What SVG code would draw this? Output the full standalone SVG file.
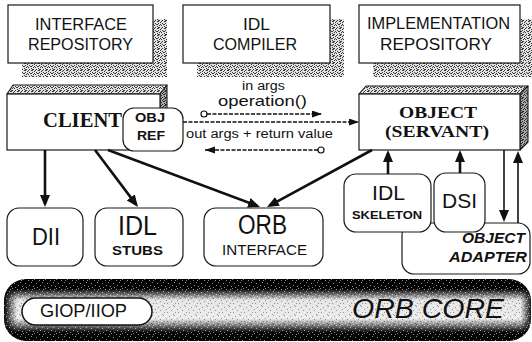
<svg xmlns="http://www.w3.org/2000/svg" width="532" height="342" viewBox="0 0 532 342">
  <style>
    .box { fill: #fff; stroke: #1a1a1a; stroke-width: 1.2; }
    .shade { fill: url(#speckle); stroke: none; }
    .bevel { fill: url(#speckle); stroke: #1a1a1a; stroke-width: 1.1; stroke-linejoin: round; }
    .bevel-dark { fill: url(#speckle-dark); stroke: #1a1a1a; stroke-width: 1.1; stroke-linejoin: round; }
    .sans { font-family: "Liberation Sans", Arial, sans-serif; fill: #111; text-anchor: middle; }
    .serif { font-family: "Liberation Serif", "Times New Roman", serif; font-weight: bold; fill: #111; text-anchor: middle; }
    .top { font-size: 16px; }
    .thick { fill: none; stroke: #111; stroke-width: 2.6; marker-end: url(#head); }
    .rail { fill: none; stroke: #111; stroke-width: 1.6; marker-end: url(#head); }
    .thin { fill: none; stroke: #111; stroke-width: 1.3; stroke-dasharray: 4 1.5; }
    .dot { fill: #fff; stroke: #111; stroke-width: 1.2; }
  </style>
  <defs>
    <marker id="head" markerUnits="userSpaceOnUse" markerWidth="13" markerHeight="11" refX="9" refY="5" orient="auto">
      <path d="M0,0 L12,5 L0,10 Z" fill="#111"/>
    </marker>
    <marker id="small" markerUnits="userSpaceOnUse" markerWidth="11" markerHeight="8" refX="10" refY="3.5" orient="auto">
      <path d="M0,0 L10,3.5 L0,7 Z" fill="#111"/>
    </marker>
    <!-- halftone speckle used for shadows and bevels -->
    <pattern id="speckle" width="7" height="7" patternUnits="userSpaceOnUse">
      <rect width="7" height="7" fill="#e2e2e2"/>
      <path fill="#3a3a3a" d="M0 0h1v1H0z M3 0h2v1H3z M6 1h1v1H6z M1 2h1v1H1z M4 2h1v1H4z M2 3h2v1H2z M6 3h1v1H6z M0 4h1v1H0z M5 4h1v1H5z M3 5h1v1H3z M1 6h1v1H1z M4 6h2v1H4z"/>
    </pattern>
    <pattern id="speckle-dark" width="7" height="7" patternUnits="userSpaceOnUse">
      <rect width="7" height="7" fill="#a8a8a8"/>
      <path fill="#2a2a2a" d="M0 0h1v1H0z M3 0h2v1H3z M6 1h1v1H6z M1 2h1v1H1z M4 2h1v1H4z M2 3h2v1H2z M6 3h1v1H6z M0 4h1v1H0z M5 4h1v1H5z M3 5h1v1H3z M1 6h1v1H1z M4 6h2v1H4z M2 1h1v1H2z M5 6h1v1H5z"/>
    </pattern>
    <!-- grain laid over the shaded tube -->
    <pattern id="grain" width="11" height="9" patternUnits="userSpaceOnUse">
      <path fill="#fff" fill-opacity="0.55" d="M1 0h1v1H1z M6 1h1v1H6z M9 3h1v1H9z M3 4h1v1H3z M7 6h1v1H7z M0 7h1v1H0z M4 8h1v1H4z M10 1h1v1H10z"/>
      <path fill="#000" fill-opacity="0.35" d="M4 1h1v1H4z M9 0h1v1H9z M1 3h1v1H1z M6 4h1v1H6z M10 6h1v1H10z M2 6h1v1H2z M8 8h1v1H8z"/>
    </pattern>
    <linearGradient id="tube" x1="0" y1="0" x2="0" y2="1">
      <stop offset="0" stop-color="#000"/>
      <stop offset="0.16" stop-color="#050505"/>
      <stop offset="0.34" stop-color="#e4e4e4"/>
      <stop offset="0.64" stop-color="#ececec"/>
      <stop offset="0.86" stop-color="#080808"/>
      <stop offset="1" stop-color="#000"/>
    </linearGradient>
    <linearGradient id="tube-ends" x1="0" y1="0" x2="1" y2="0">
      <stop offset="0" stop-color="#000" stop-opacity="1"/>
      <stop offset="0.025" stop-color="#000" stop-opacity="0"/>
      <stop offset="0.98" stop-color="#000" stop-opacity="0"/>
      <stop offset="1" stop-color="#000" stop-opacity="0.9"/>
    </linearGradient>
  </defs>

  <!-- repositories and compiler along the top, with drop shadows -->
  <g id="interface-repository">
    <rect class="shade" x="22" y="19" width="145" height="58"/>
    <rect class="box" x="8" y="5" width="145" height="58"/>
    <text class="sans top" x="81" y="30" textLength="92" lengthAdjust="spacingAndGlyphs">INTERFACE</text>
    <text class="sans top" x="80.5" y="50" textLength="105" lengthAdjust="spacingAndGlyphs">REPOSITORY</text>
  </g>
  <g id="idl-compiler">
    <rect class="shade" x="197" y="19" width="147" height="58"/>
    <rect class="box" x="183" y="5" width="147" height="58"/>
    <text class="sans top" x="256.5" y="30" textLength="27" lengthAdjust="spacingAndGlyphs">IDL</text>
    <text class="sans top" x="255" y="50" textLength="84" lengthAdjust="spacingAndGlyphs">COMPILER</text>
  </g>
  <g id="implementation-repository">
    <rect class="shade" x="373" y="19" width="161" height="58"/>
    <rect class="box" x="359" y="5" width="161" height="58"/>
    <text class="sans top" x="438.5" y="29" textLength="143" lengthAdjust="spacingAndGlyphs">IMPLEMENTATION</text>
    <text class="sans top" x="436" y="50" textLength="112" lengthAdjust="spacingAndGlyphs">REPOSITORY</text>
  </g>

  <!-- client block -->
  <g id="client">
    <polygon class="bevel" points="7,94 13,85 167,85 160,94"/>
    <polygon class="bevel-dark" points="160,94 167,85 167,143 160,150"/>
    <rect class="box" x="7" y="94" width="153" height="56"/>
    <text class="serif" x="82.5" y="127" font-size="21" textLength="79" lengthAdjust="spacingAndGlyphs">CLIENT</text>
  </g>
  <g id="obj-ref">
    <rect class="box" x="123" y="108" width="60" height="43" rx="11"/>
    <text class="sans" x="150" y="122" font-size="13" font-weight="bold" textLength="30" lengthAdjust="spacingAndGlyphs">OBJ</text>
    <text class="sans" x="151" y="140" font-size="13" font-weight="bold" textLength="28" lengthAdjust="spacingAndGlyphs">REF</text>
  </g>

  <!-- object implementation block -->
  <g id="object">
    <polygon class="bevel" points="359,94 366,86 528,86 520,94"/>
    <polygon class="bevel-dark" points="520,94 528,86 528,142 520,150"/>
    <rect class="box" x="359" y="94" width="161" height="56"/>
    <text class="serif" x="438" y="118" font-size="17" textLength="78" lengthAdjust="spacingAndGlyphs">OBJECT</text>
    <text class="serif" x="437" y="137" font-size="16" textLength="104" lengthAdjust="spacingAndGlyphs">(SERVANT)</text>
  </g>

  <!-- client-side components -->
  <g id="dii">
    <rect class="box" x="7" y="208" width="76" height="58" rx="12"/>
    <text class="sans" x="46" y="245" font-size="23" textLength="28" lengthAdjust="spacingAndGlyphs">DII</text>
  </g>
  <g id="idl-stubs">
    <rect class="box" x="95" y="208" width="88" height="58" rx="12"/>
    <text class="sans" x="137.5" y="235" font-size="27" textLength="39" lengthAdjust="spacingAndGlyphs">IDL</text>
    <text class="sans" x="137.5" y="255" font-size="13" font-weight="bold" textLength="51" lengthAdjust="spacingAndGlyphs">STUBS</text>
  </g>
  <g id="orb-interface">
    <rect class="box" x="204" y="208" width="119" height="58" rx="12"/>
    <text class="sans" x="262.5" y="234" font-size="27" textLength="49" lengthAdjust="spacingAndGlyphs">ORB</text>
    <text class="sans" x="264.5" y="255" font-size="14" textLength="85" lengthAdjust="spacingAndGlyphs">INTERFACE</text>
  </g>

  <!-- server-side components -->
  <g id="object-adapter">
    <rect class="box" x="402" y="223" width="128" height="51" rx="12"/>
    <text class="sans" x="525" y="243" font-size="15" font-weight="bold" font-style="italic" style="text-anchor:end" textLength="63" lengthAdjust="spacingAndGlyphs">OBJECT</text>
    <text class="sans" x="527" y="262" font-size="15" font-weight="bold" font-style="italic" style="text-anchor:end" textLength="78" lengthAdjust="spacingAndGlyphs">ADAPTER</text>
  </g>
  <g id="idl-skeleton">
    <rect class="box" x="344" y="174" width="87" height="58" rx="12"/>
    <text class="sans" x="388.5" y="200" font-size="21" textLength="33" lengthAdjust="spacingAndGlyphs">IDL</text>
    <text class="sans" x="387" y="219" font-size="11.5" font-weight="bold" textLength="70" lengthAdjust="spacingAndGlyphs">SKELETON</text>
  </g>
  <g id="dsi">
    <rect class="box" x="434" y="173" width="51" height="59" rx="12"/>
    <text class="sans" x="459.5" y="208" font-size="21" textLength="35" lengthAdjust="spacingAndGlyphs">DSI</text>
  </g>

  <!-- ORB core tube -->
  <g id="orb-core">
    <rect x="4" y="279" width="527" height="62" rx="22" fill="url(#tube)"/>
    <rect x="4" y="279" width="527" height="62" rx="22" fill="url(#tube-ends)"/>
    <rect x="4" y="279" width="527" height="62" rx="22" fill="url(#grain)"/>
    <text class="sans" x="352" y="318" font-size="28" font-style="italic" style="text-anchor:start" textLength="152" lengthAdjust="spacingAndGlyphs">ORB CORE</text>
  </g>
  <g id="giop-iiop">
    <rect x="22" y="298" width="130" height="27" rx="13.5" fill="#fff" stroke="#111" stroke-width="1.5"/>
    <text class="sans" x="83.5" y="317" font-size="18.5" textLength="87" lengthAdjust="spacingAndGlyphs">GIOP/IIOP</text>
  </g>

  <!-- connectors -->
  <g id="connectors">
    <line class="thick" x1="45" y1="150" x2="45" y2="204"/>
    <line class="thick" x1="95" y1="150" x2="136.2" y2="204.6"/>
    <line class="thick" x1="108" y1="150" x2="257.2" y2="205.9"/>
    <line class="thick" x1="372" y1="150" x2="269.6" y2="205.6"/>
    <line class="thick" x1="388" y1="174" x2="388" y2="153"/>
    <line class="thick" x1="460" y1="173" x2="460" y2="153"/>
    <line class="rail" x1="504" y1="150" x2="504" y2="219"/>
    <line class="rail" x1="518" y1="223" x2="518" y2="154"/>

    <!-- request from the object reference to the servant -->
    <line class="thin" x1="183" y1="122" x2="359" y2="122" marker-end="url(#small)"/>
    <line class="thin" x1="207" y1="114" x2="322" y2="114" marker-end="url(#small)"/>
    <circle class="dot" cx="204" cy="114" r="3"/>
    <line class="thin" x1="318" y1="150" x2="205" y2="150" marker-end="url(#small)"/>
    <circle class="dot" cx="321" cy="150" r="3"/>

    <text class="sans" x="263.5" y="90" font-size="12" textLength="43" lengthAdjust="spacingAndGlyphs">in args</text>
    <text class="sans" x="262.5" y="106" font-size="15" textLength="89" lengthAdjust="spacingAndGlyphs">operation()</text>
    <text class="sans" x="259.5" y="138" font-size="12.5" textLength="147" lengthAdjust="spacingAndGlyphs">out args + return value</text>
  </g>
</svg>
